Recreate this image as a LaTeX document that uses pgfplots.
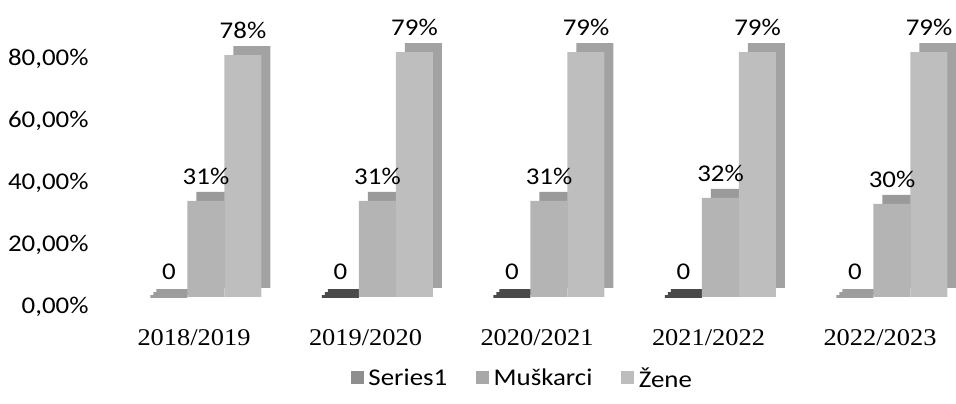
\documentclass[border=0pt]{standalone}
\usepackage{pgfplots}
\pgfplotsset{compat=1.18}
\usepackage{fontspec}
\setmainfont{Carlito}[FakeStretch=1.12]
\newfontfamily\catfont{Liberation Serif}[FakeStretch=1.1]
\definecolor{sOneDark}{HTML}{4A4A4A}
\definecolor{sOneLight}{HTML}{9C9C9C}
\definecolor{sOneLeg}{HTML}{8E8E8E}
\definecolor{muFront}{HTML}{B4B4B4}
\definecolor{zeFront}{HTML}{BEBEBE}
\definecolor{muSide}{HTML}{9A9A9A}
\definecolor{zeSide}{HTML}{A2A2A2}
\definecolor{muLeg}{HTML}{A8A8A8}
\definecolor{zeLeg}{HTML}{BDBDBD}
\begin{document}
\begin{tikzpicture}[font=\fontsize{24}{28}\selectfont]
\begin{axis}[
  scale only axis,
  width=834pt, height=248pt,
  ymin=0, ymax=80,
  xmin=-0.513, xmax=4.35,
  axis line style={draw=none},
  tick style={draw=none},
  ytick={0,20,40,60,80},
  yticklabels={{0,00\%},{20,00\%},{40,00\%},{60,00\%},{80,00\%}},
  yticklabel style={anchor=east, xshift=-26pt, yshift=-10pt},
  xtick={0,1,2,3,4},
  xticklabels={2018/2019,2019/2020,2020/2021,2021/2022,2022/2023},
  xticklabel style={font=\catfont\fontsize{24}{28}\selectfont, anchor=center, xshift=-12pt, yshift=-36pt},
  /pgf/number format/assume math mode=true,
  ybar, bar width=37pt,
  clip=false,
  legend columns=3,
  legend style={draw=none, at={(0.485,-0.327)}, anchor=center, font=\fontsize{24}{28}\selectfont,
    column sep=3pt},
  legend image code/.code={\fill[#1] (0pt,-5pt) rectangle (12pt,7pt);},
  nodes near coords style={anchor=south, inner sep=0pt, yshift=16pt, black},
  slab/.style={draw=#1, line width=3pt,
    preaction={draw=#1, line width=3pt, transform canvas={xshift=3pt,yshift=3pt}},
    preaction={draw=#1, line width=3pt, transform canvas={xshift=6pt,yshift=6pt}}},
]
\addplot[forget plot, bar shift=-37pt, slab=sOneLight, nodes near coords={0}]
  coordinates {(0,0) (4,0)};
\addplot[forget plot, bar shift=-37pt, slab=sOneDark, nodes near coords={0}]
  coordinates {(1,0) (2,0) (3,0)};
\addplot[forget plot, bar shift=0pt, fill=muFront, draw=none,
  preaction={fill=muSide, transform canvas={xshift=9pt,yshift=9pt}},
  nodes near coords={\pgfmathprintnumber[fixed,precision=0]{\pgfplotspointmeta}\%}]
  coordinates {(0,31) (1,31) (2,31) (3,32) (4,30)};
\addplot[forget plot, bar shift=37pt, fill=zeFront, draw=none,
  preaction={fill=zeSide, transform canvas={xshift=9pt,yshift=9pt}},
  nodes near coords={\pgfmathprintnumber[fixed,precision=0]{\pgfplotspointmeta}\%}]
  coordinates {(0,78) (1,79) (2,79) (3,79) (4,79)};
\addlegendimage{sOneLeg}
\addlegendentry{Series1\hspace*{24pt}}
\addlegendimage{muLeg}
\addlegendentry{Muškarci\hspace*{24pt}}
\addlegendimage{zeLeg}
\addlegendentry{Žene}
\end{axis}
\path[use as bounding box] ([xshift=-118pt,yshift=-107pt]current axis.south west) rectangle ([xshift=838pt,yshift=297pt]current axis.south west);
\end{tikzpicture}
\end{document}
